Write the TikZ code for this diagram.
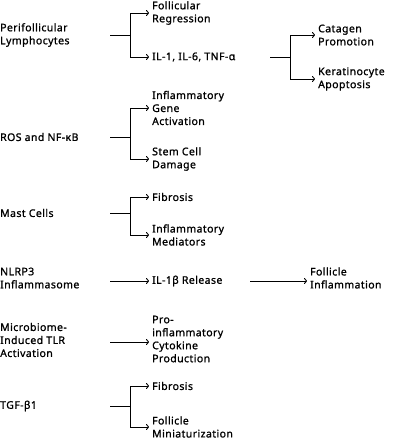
\documentclass[tikz,border=0pt]{standalone}
\usepackage{fontspec}
\setmainfont{Noto Sans}[FakeBold=1.0,LetterSpace=4]
\usetikzlibrary{arrows.meta}
\begin{document}
\begin{tikzpicture}[x=1pt,y=-1pt,
  lbl/.style={anchor=west,align=left,inner sep=0pt,font=\fontsize{10.5}{13}\selectfont},
  conn/.style={line width=0.9pt},
  arr/.style={conn,-{To[length=3pt,width=6pt,line width=0.9pt]},shorten >=3pt}]
\useasboundingbox (0,0) rectangle (407,440);
% Row 1
\node[lbl] (pl) at (0,35) {Perifollicular\\Lymphocytes};
\node[lbl] (fr) at (152,13) {Follicular\\Regression};
\node[lbl] (il) at (152,57) {IL-1, IL-6, TNF-α};
\node[lbl] (cp) at (318,35) {Catagen\\Promotion};
\node[lbl] (ka) at (318,79) {Keratinocyte\\Apoptosis};
\coordinate (s1) at (110,35);
\coordinate (j1) at (130,35);
\draw[conn] (s1) -- (j1);
\draw[arr] (j1) |- (fr.west);
\draw[arr] (j1) |- (il.west);
\coordinate (s2) at (270,57);
\coordinate (j2) at (290,57);
\draw[conn] (s2) -- (j2);
\draw[arr] (j2) |- (cp.west);
\draw[arr] (j2) |- (ka.west);
% Row 2
\node[lbl] (ros) at (0,137) {ROS and NF-κB};
\node[lbl] (iga) at (152,108) {Inflammatory\\Gene\\Activation};
\node[lbl] (scd) at (152,159) {Stem Cell\\Damage};
\coordinate (s3) at (110,137);
\coordinate (j3) at (130,137);
\draw[conn] (s3) -- (j3);
\draw[arr] (j3) |- (iga.west);
\draw[arr] (j3) |- (scd.west);
% Row 3
\node[lbl] (mc) at (0,213) {Mast Cells};
\node[lbl] (fib1) at (152,197) {Fibrosis};
\node[lbl] (im) at (152,235) {Inflammatory\\Mediators};
\coordinate (s4) at (110,213);
\coordinate (j4) at (130,213);
\draw[conn] (s4) -- (j4);
\draw[arr] (j4) |- (fib1.west);
\draw[arr] (j4) |- (im.west);
% Row 4
\node[lbl] (nl) at (0,278) {NLRP3\\Inflammasome};
\node[lbl] (ilb) at (152,281) {IL-1β Release};
\node[lbl] (fi) at (310,278) {Follicle\\Inflammation};
\coordinate (s5) at (110,281);
\draw[arr] (s5) -- (ilb.west);
\coordinate (s6) at (250,281);
\draw[arr] (s6) -- (fi.west |- s6);
% Row 5
\node[lbl] (mtlr) at (0,340) {Microbiome-\\Induced TLR\\Activation};
\node[lbl] (pic) at (152,339) {Pro-\\inflammatory\\Cytokine\\Production};
\coordinate (s7) at (110,342);
\draw[arr] (s7) -- (pic.west |- s7);
% Row 6
\node[lbl] (tgf) at (0,406) {TGF-β1};
\node[lbl] (fib2) at (152,386) {Fibrosis};
\node[lbl] (fm) at (152,427) {Follicle\\Miniaturization};
\coordinate (s8) at (110,406);
\coordinate (j8) at (130,406);
\draw[conn] (s8) -- (j8);
\draw[arr] (j8) |- (fib2.west);
\draw[arr] (j8) |- (fm.west);
\end{tikzpicture}
\end{document}
